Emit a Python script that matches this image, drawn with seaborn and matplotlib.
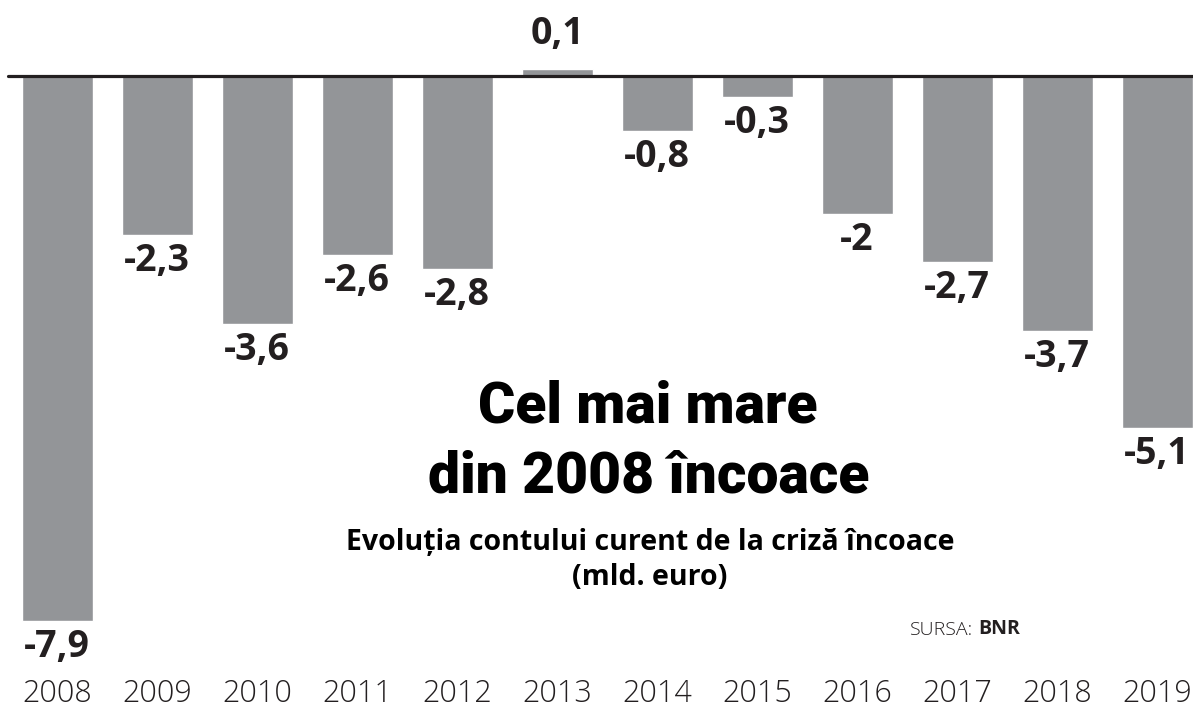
import numpy as np
import pandas as pd
import matplotlib
matplotlib.use("Agg")
import matplotlib.pyplot as plt
import seaborn as sns

# ── Data (mld. euro, sursa BNR) ─────────────────────────────────
YEARS  = ["2008", "2009", "2010", "2011", "2012", "2013",
          "2014", "2015", "2016", "2017", "2018", "2019"]
VALUES = [-7.9, -2.3, -3.6, -2.6, -2.8, 0.1,
          -0.8, -0.3, -2.0, -2.7, -3.7, -5.1]

TITLE_1  = "Cel mai mare"
TITLE_2  = "din 2008 încoace"
SUBTITLE = "Evoluția contului curent de la criză încoace"
UNIT     = "(mld. euro)"

BAR_COLOR = "#939598"
INK       = "#231f20"

NARROW = ["Liberation Sans Narrow", "DejaVu Sans Condensed", "Open Sans", "DejaVu Sans"]
HEAVY  = ["Roboto", "Lato", "DejaVu Sans"]


def fmt(v):
    s = f"{v:.1f}".replace(".", ",")
    return s[:-2] if s.endswith(",0") else s


sns.set_theme(style="white")
plt.rcParams["font.family"] = NARROW

df = pd.DataFrame({"an": YEARS, "val": VALUES})

fig = plt.figure(figsize=(11.93, 7.09), dpi=100)
ax = fig.add_axes([0, 39 / 709, 1, 670 / 709])

sns.barplot(data=df, x="an", y="val", color=BAR_COLOR, saturation=1,
            width=0.71, ax=ax)

ax.set_xlim(-0.57, 11.36)
ax.set_ylim(1.101 - 670 / 69, 1.101)
ax.axhline(0, xmin=8 / 1193, xmax=1, color=INK, linewidth=2.3, zorder=5)

# value labels
for i, v in enumerate(VALUES):
    if v < 0:
        ax.annotate(fmt(v), (i, v), xytext=(0, -7), textcoords="offset pixels",
                    ha="center", va="top", fontsize=27, fontweight="bold",
                    color=INK)
    else:
        ax.annotate(fmt(v), (i, v), xytext=(0, 16), textcoords="offset pixels",
                    ha="center", va="bottom", fontsize=27, fontweight="bold",
                    color=INK)

# titles
ax.text(5.905, -5.015, TITLE_1, ha="center", va="baseline",
        fontsize=41, fontweight=900, family=HEAVY, color="black")
ax.text(5.92, -6.03, TITLE_2, ha="center", va="baseline",
        fontsize=41, fontweight=900, family=HEAVY, color="black")
ax.text(5.93, -6.87, SUBTITLE, ha="center", va="baseline",
        fontsize=20.5, fontweight="bold", color="black")
ax.text(5.93, -7.38, UNIT, ha="center", va="baseline",
        fontsize=20.5, fontweight="bold", color="black")
src = ax.text(8.53, -8.10, "SURSA:", ha="left", va="baseline",
              fontsize=14, fontweight="light", color=INK)
ax.annotate("BNR", xy=(1, 0), xycoords=src, xytext=(5, 0),
            textcoords="offset pixels", ha="left", va="bottom",
            fontsize=14, fontweight="bold", color=INK)

ax.set_xlabel("")
ax.set_ylabel("")
ax.set_yticks([])
ax.tick_params(axis="x", length=0, pad=6, labelsize=22, labelcolor=INK)
for lab in ax.get_xticklabels():
    lab.set_family(NARROW)
    lab.set_fontweight("light")
sns.despine(ax=ax, left=True, bottom=True)

fig.savefig("out.png", dpi=100, facecolor="white")
